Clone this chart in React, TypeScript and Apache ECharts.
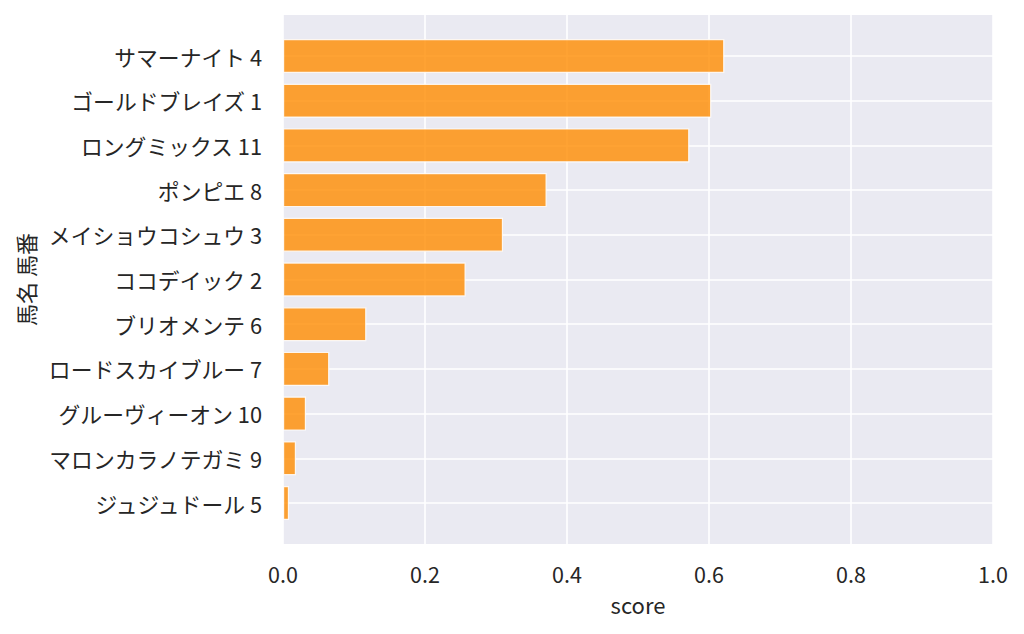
import React, { useEffect, useRef } from "react";
import * as echarts from "echarts";

const horseNames = [
  "サマーナイト 4",
  "ゴールドブレイズ 1",
  "ロングミックス 11",
  "ポンピエ 8",
  "メイショウコシュウ 3",
  "ココデイック 2",
  "ブリオメンテ 6",
  "ロードスカイブルー 7",
  "グルーヴィーオン 10",
  "マロンカラノテガミ 9",
  "ジュジュドール 5",
];

const scores = [0.6216, 0.6032, 0.5723, 0.3714, 0.3099, 0.2573, 0.1174, 0.0652, 0.0324, 0.0183, 0.0085];

const xMin = 0;
const xMax = 1;
const xStep = 0.2;

const FONT = "'Noto Sans CJK JP', 'Noto Sans', sans-serif";
const TEXT = "#262626";

export default function App() {
  const ref = useRef<HTMLDivElement>(null);
  useEffect(() => {
    document.body.style.margin = "0";
    if (!ref.current) return;
    const chart = echarts.init(ref.current, undefined, { renderer: "svg" });
    chart.setOption({
      animation: false,
      textStyle: { fontFamily: FONT, color: TEXT },
      grid: [
        { left: 283, right: 31, top: 15, bottom: 90, show: true, backgroundColor: "#eaeaf2", borderWidth: 0 },
        { left: 283, right: 31, top: 56, bottom: 131 },
      ],
      xAxis: [
        {
          type: "value",
          gridIndex: 0,
          min: xMin,
          max: xMax,
          interval: xStep,
          axisLine: { show: false },
          axisTick: { show: false },
          axisLabel: {
            fontSize: 21.5,
            color: TEXT,
            fontFamily: FONT,
            margin: 19,
            formatter: (v: number) => v.toFixed(1),
          },
          splitLine: { show: true, lineStyle: { color: "#ffffff", width: 1.6 } },
          name: "score",
          nameLocation: "middle",
          nameGap: 49,
          nameTextStyle: { fontSize: 22, color: TEXT, fontFamily: FONT },
        },
        {
          type: "value",
          gridIndex: 1,
          min: xMin,
          max: xMax,
          interval: xStep,
          show: false,
        },
      ],
      yAxis: [
        {
          type: "value",
          gridIndex: 0,
          axisLine: { show: false },
          axisTick: { show: false },
          axisLabel: { show: false },
          splitLine: { show: false },
          name: "馬名 馬番",
          nameLocation: "middle",
          nameGap: 247,
          nameTextStyle: { fontSize: 22, color: TEXT, fontFamily: FONT },
        },
        {
          type: "category",
          gridIndex: 1,
          data: horseNames,
          inverse: true,
          boundaryGap: false,
          axisLine: { show: false },
          axisTick: { show: false },
          axisLabel: { fontSize: 21.8, color: TEXT, fontFamily: FONT, margin: 21, interval: 0 },
          splitLine: { show: true, interval: 0, lineStyle: { color: "#ffffff", width: 1.6 } },
        },
      ],
      series: [
        {
          type: "bar",
          xAxisIndex: 1,
          yAxisIndex: 1,
          data: scores,
          barWidth: 34,
          clip: false,
          itemStyle: {
            color: "rgba(255,140,0,0.8)",
            borderColor: "rgba(255,255,255,0.85)",
            borderWidth: 1.2,
          },
        },
      ],
    });
    return () => chart.dispose();
  }, []);
  return <div ref={ref} style={{ width: 1024, height: 634 }} />;
}
